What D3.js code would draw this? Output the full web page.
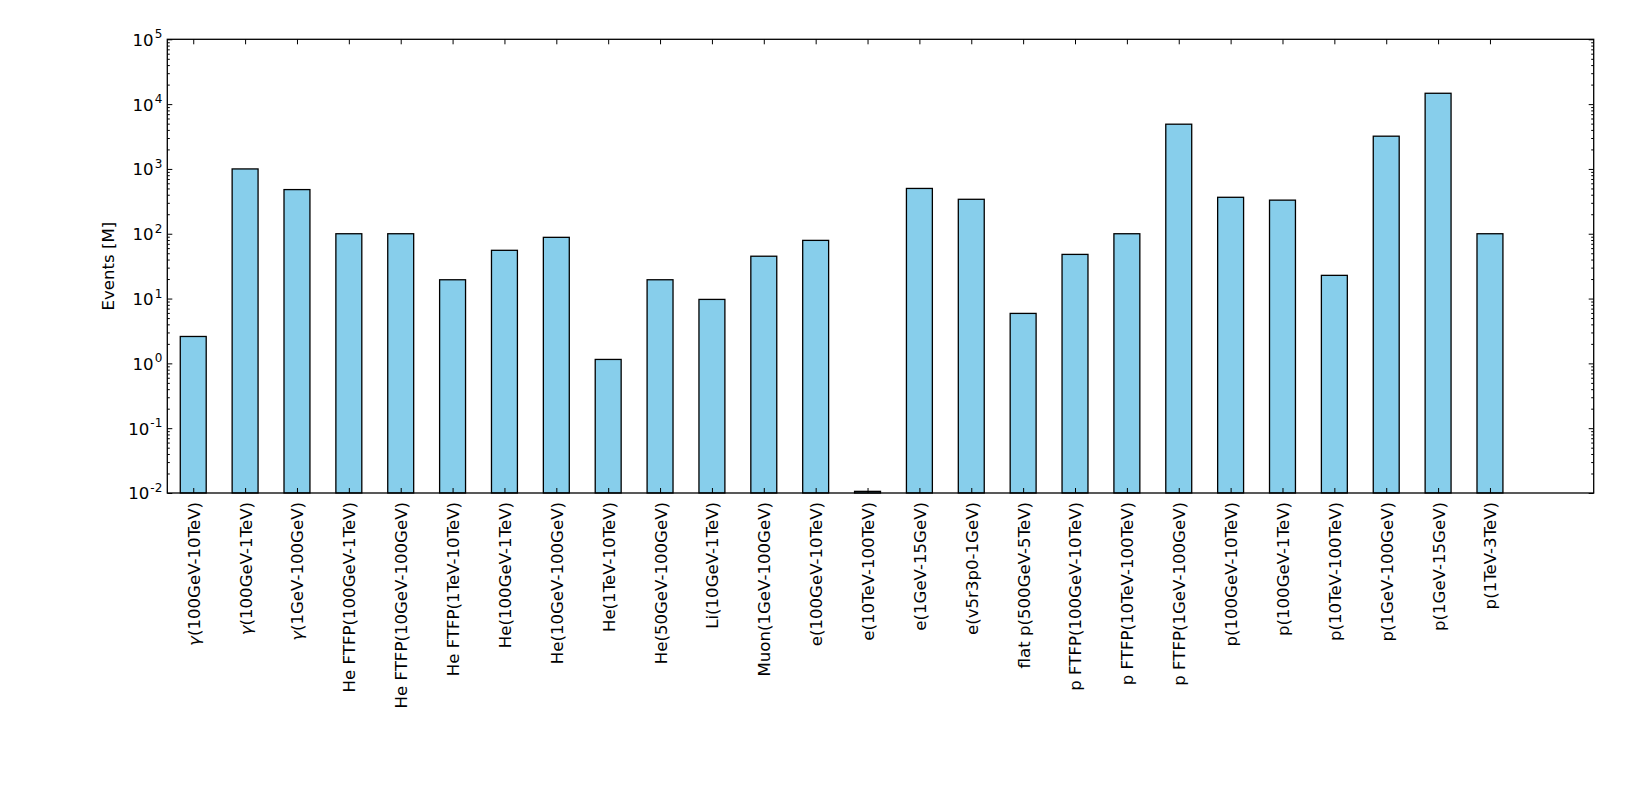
<!DOCTYPE html>
<html>
<head>
<meta charset="utf-8">
<script src="https://cdn.jsdelivr.net/npm/d3@7/dist/d3.min.js"></script>
<style>
    body { margin: 0; background: #fff; }
    text { font-family: "DejaVu Sans", sans-serif; fill: #000; }
</style>
</head>
<body>
<div id="chart"></div>
<script>
// sample names, in plotting order
const samples = [
    "γ(100GeV-10TeV)", "γ(100GeV-1TeV)", "γ(1GeV-100GeV)",
    "He FTFP(100GeV-1TeV)", "He FTFP(10GeV-100GeV)", "He FTFP(1TeV-10TeV)",
    "He(100GeV-1TeV)", "He(10GeV-100GeV)", "He(1TeV-10TeV)", "He(50GeV-100GeV)",
    "Li(10GeV-1TeV)", "Muon(1GeV-100GeV)",
    "e(100GeV-10TeV)", "e(10TeV-100TeV)", "e(1GeV-15GeV)", "e(v5r3p0-1GeV)",
    "flat p(500GeV-5TeV)",
    "p FTFP(100GeV-10TeV)", "p FTFP(10TeV-100TeV)", "p FTFP(1GeV-100GeV)",
    "p(100GeV-10TeV)", "p(100GeV-1TeV)", "p(10TeV-100TeV)",
    "p(1GeV-100GeV)", "p(1GeV-15GeV)", "p(1TeV-3TeV)"
];

// events in millions
const events = [
    2.6, 1000, 480,
    100, 100, 19.5,
    55.5, 88, 1.15, 19.5,
    9.7, 45,
    79, 0.0106, 500, 340,
    5.9,
    48, 100, 4900,
    365, 330, 22.8,
    3200, 14700, 100
];

const yTickExponents = [-2, -1, 0, 1, 2, 3, 4, 5];

const width = 1630, height = 805;
const frame = {left: 167.3, top: 39.3, right: 1593.7, bottom: 493};
const fontSize = 16.6;

const svg = d3.select("#chart").append("svg")
    .attr("width", width)
    .attr("height", height);

const x = d3.scaleLinear()
    .domain([-0.5, 27])
    .range([frame.left, frame.right]);

const y = d3.scaleLog()
    .domain([1e-2, 1e5])
    .range([frame.bottom, frame.top]);

const barWidth = x(0.5) - x(0);

// bars
svg.append("g")
    .selectAll("rect")
    .data(events)
    .join("rect")
    .attr("x", (d, i) => x(i) - barWidth / 2)
    .attr("y", d => y(d))
    .attr("width", barWidth)
    .attr("height", d => frame.bottom - y(d))
    .attr("fill", "#87ceeb")
    .attr("stroke", "#000")
    .attr("stroke-width", 1.3);

// minor ticks for the log axis
const minorTicks = [];
for (let e = -2; e < 5; e++) {
    for (let m = 2; m < 10; m++) minorTicks.push(m * Math.pow(10, e));
}
const majorTicks = yTickExponents.map(e => Math.pow(10, e));

function styleAxis(g) {
    g.select(".domain").remove();
    g.selectAll(".tick line").attr("stroke", "#000").attr("stroke-width", 1);
}

// left axis
svg.append("g")
    .attr("transform", `translate(${frame.left},0)`)
    .call(d3.axisLeft(y).tickValues(minorTicks).tickSize(-2.5).tickFormat(""))
    .call(styleAxis);

const yAxisLeft = svg.append("g")
    .attr("transform", `translate(${frame.left},0)`)
    .call(d3.axisLeft(y).tickValues(majorTicks).tickSizeInner(-5).tickSizeOuter(0)
        .tickPadding(5).tickFormat(""))
    .call(styleAxis);

yAxisLeft.selectAll(".tick text")
    .attr("font-size", fontSize)
    .attr("dy", "0.36em")
    .each(function(d, i) {
        const t = d3.select(this);
        const exp = yTickExponents[i];
        t.append("tspan").text("10");
        t.append("tspan")
            .attr("font-size", 12)
            .attr("dx", 1)
            .attr("dy", "-0.62em")
            .text(exp < 0 ? "-" + Math.abs(exp) : exp);
    });

// right axis (ticks only)
svg.append("g")
    .attr("transform", `translate(${frame.right},0)`)
    .call(d3.axisRight(y).tickValues(minorTicks).tickSize(-2.5).tickFormat(""))
    .call(styleAxis);
svg.append("g")
    .attr("transform", `translate(${frame.right},0)`)
    .call(d3.axisRight(y).tickValues(majorTicks).tickSize(-5).tickFormat(""))
    .call(styleAxis);

// bottom axis with rotated sample names
const xAxis = svg.append("g")
    .attr("transform", `translate(0,${frame.bottom})`)
    .call(d3.axisBottom(x).tickValues(d3.range(samples.length))
        .tickSizeInner(-5).tickSizeOuter(0)
        .tickFormat(""))
    .call(styleAxis);

xAxis.selectAll(".tick text")
    .attr("font-size", fontSize)
    .attr("transform", "rotate(-90)")
    .attr("x", -9)
    .attr("y", 0)
    .attr("dy", "0.36em")
    .style("text-anchor", "end")
    .each(function(i) {
        const t = d3.select(this);
        const name = samples[i];
        if (name.startsWith("γ")) {
            // gamma shown as a math italic symbol
            t.append("tspan").attr("font-style", "italic").text("γ");
            t.append("tspan").text(name.slice(1));
        } else {
            t.text(name);
        }
    });

// top axis ticks
svg.append("g")
    .attr("transform", `translate(0,${frame.top})`)
    .call(d3.axisTop(x).tickValues(d3.range(samples.length)).tickSize(-5).tickFormat(""))
    .call(styleAxis);

// frame
svg.append("rect")
    .attr("x", frame.left)
    .attr("y", frame.top)
    .attr("width", frame.right - frame.left)
    .attr("height", frame.bottom - frame.top)
    .attr("fill", "none")
    .attr("stroke", "#000")
    .attr("stroke-width", 1.3);

// y label
svg.append("text")
    .attr("transform", `translate(108,${(frame.top + frame.bottom) / 2}) rotate(-90)`)
    .attr("text-anchor", "middle")
    .attr("dy", "0.36em")
    .attr("font-size", fontSize)
    .text("Events [M]");
</script>
</body>
</html>
